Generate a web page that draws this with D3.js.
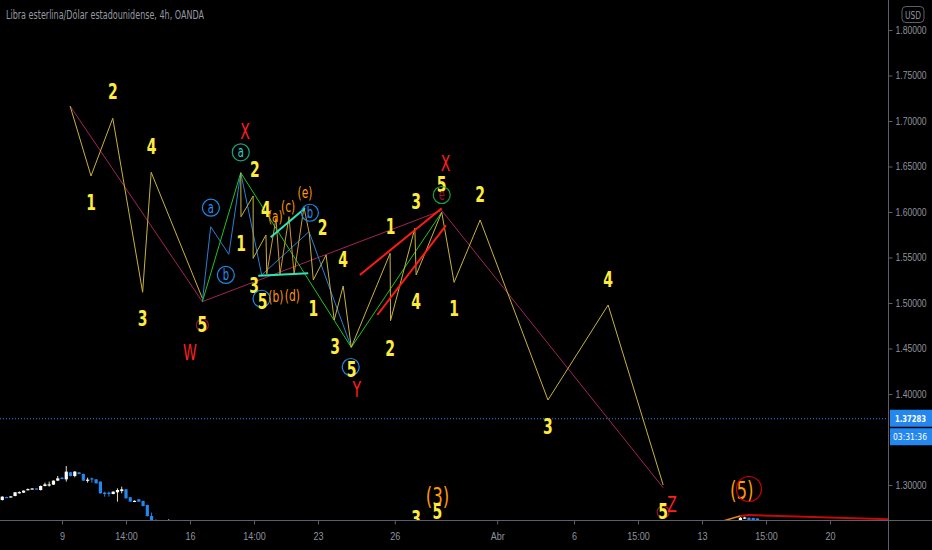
<!DOCTYPE html>
<html><head><meta charset="utf-8">
<script src="https://cdn.jsdelivr.net/npm/d3@7"></script>
<style>
body{margin:0;background:#000;overflow:hidden;}
svg{display:block;font-family:"DejaVu Sans Condensed","DejaVu Sans",sans-serif;}
</style></head><body><svg></svg><script>
// axis data
const timeTicks = [[0,"9"],[15,"14:00"],[30,"16"],[45,"14:00"],[60,"23"],[78,"26"],[102,"Abr"],[120,"6"],[135,"15:00"],[150,"13"],[165,"15:00"],[180,"20"]];
const priceTicks = [1.30,1.40,1.45,1.50,1.55,1.60,1.65,1.70,1.75,1.80];
const lastPrice = 1.37283;
const countdown = "03:31:36";
const title = "Libra esterlina/Dólar estadounidense, 4h, OANDA";

// 4h candles: [bar, open, high, low, close]
const candles = [
  [-14,1.2835,1.2876,1.2830,1.2872],[-13,1.2868,1.2870,1.2860,1.2862],[-12,1.2866,1.2878,1.2864,1.2875],
  [-11,1.2879,1.2922,1.2876,1.2920],[-10,1.2918,1.2930,1.2905,1.2922],[-9,1.2916,1.2940,1.2914,1.2938],
  [-8,1.2950,1.2962,1.2942,1.2955],[-7,1.2958,1.2964,1.2954,1.2962],[-6,1.2962,1.2964,1.2956,1.2958],
  [-5,1.2945,1.2995,1.2940,1.2989],[-4,1.2989,1.3026,1.2985,1.3007],[-3,1.3002,1.3037,1.2982,1.3007],
  [-2,1.3004,1.3050,1.3000,1.3048],[-1,1.3048,1.3099,1.3045,1.3073],[0,1.3081,1.3085,1.3062,1.3066],
  [1,1.3062,1.3209,1.3037,1.3147],[2,1.3139,1.3145,1.3095,1.3099],[3,1.3099,1.3154,1.3085,1.3147],
  [4,1.3139,1.3143,1.3118,1.3121],[5,1.3121,1.3125,1.3045,1.3048],[6,1.3055,1.3081,1.3026,1.3059],
  [7,1.3073,1.3081,1.3026,1.3062],[8,1.3062,1.3066,1.3015,1.3019],[9,1.3037,1.3040,1.2905,1.2909],
  [10,1.2916,1.2927,1.2872,1.2901],[11,1.2916,1.2927,1.2872,1.2901],[12,1.2901,1.2930,1.2898,1.2927],
  [13,1.2920,1.2963,1.2817,1.2945],[14,1.2934,1.2982,1.2909,1.2952],[15,1.2952,1.2956,1.2850,1.2854],
  [16,1.2865,1.2868,1.2815,1.2817],[17,1.2824,1.2832,1.2817,1.2826],[18,1.2843,1.2846,1.2815,1.2817],
  [19,1.2824,1.2828,1.2765,1.2769],[20,1.2780,1.2784,1.2655,1.2659],[21,1.2659,1.2696,1.2575,1.2579],
  [22,1.2615,1.2623,1.2480,1.2500],[23,1.2500,1.2520,1.2280,1.2300],[24,1.2300,1.2350,1.2080,1.2100],
  [25,1.2200,1.2623,1.2150,1.2400],[26,1.2400,1.2615,1.2250,1.2300],
  [159,1.2610,1.2648,1.2600,1.2640],[160,1.2640,1.2652,1.2628,1.2643],[161,1.2640,1.2642,1.2600,1.2610],
  [162,1.2638,1.2640,1.2590,1.2600],[163,1.2632,1.2634,1.2580,1.2590]
];

// drawn wave paths: [bar, price]
const waveW = [[1.9,1.7165],[6.8,1.6396],[11.9,1.7030],[18.9,1.5118],[20.9,1.6436],[32.9,1.5052]];
const waveMaroon = [[1.9,1.7165],[32.9,1.5015],[89.0,1.6017],[140.9,1.2970]];
const waveBlue = [[32.9,1.5015],[34.85,1.5838],[39.1,1.5535],[41.9,1.6432],[46.8,1.5308],[57.9,1.5784],[67.8,1.4513]];
const waveGreen = [[32.9,1.5015],[41.9,1.6432],[67.8,1.4513],[89.0,1.5997]];
const waveSubX = [[41.9,1.6432],[41.95,1.5948],[44.8,1.6176],[44.8,1.5491],[47.8,1.5747],[48.0,1.5319]];
const waveTriangle = [[48.0,1.5319],[50.15,1.5931],[51.1,1.5319],[53.2,1.5949],[54.4,1.5319],[56.7,1.6052],[57.95,1.5766]];
const waveY = [[57.95,1.5766],[58.9,1.5253],[61.9,1.5527],[63.8,1.4813],[65.9,1.5187],[67.8,1.4513],
  [76.9,1.5546],[77.0,1.4806],[82.7,1.5821],[83.0,1.5308],[89.0,1.5997],[91.9,1.5227],[98.0,1.5912],
  [113.9,1.3934],[128.0,1.4978],[140.9,1.3000]];
const tealLines = [[[48.9,1.5722],[56.95,1.6041]],[[46.0,1.5300],[57.7,1.5326]]];
const redLines = [[[69.8,1.5308],[89.0,1.6041]],[[73.9,1.4868],[90.0,1.5852]]];
const waveOrangeLow = [[154.4,1.2597],[158.9,1.2659]];
const waveRedLow = [[158.9,1.2659],[160.9,1.2670],[200,1.2615]];

// labels: [text, bar, price, kind]
const labels = [
  ["2",11.9,1.7322,"y"],["1",6.8,1.6102,"y"],["4",21.0,1.6718,"y"],["3",18.9,1.4832,"y"],
  ["5",32.9,1.4758,"y5"],["W",30.0,1.4454,"r"],
  ["a",34.9,1.6047,"cb"],["b",38.4,1.5308,"cb"],["a",41.9,1.6656,"cg"],["X",42.9,1.6882,"r"],
  ["2",45.2,1.6462,"y"],["1",42.0,1.5656,"y"],["4",47.8,1.6030,"y"],
  ["(a)",50.0,1.5948,"o"],["(c)",53.0,1.6058,"o"],["(e)",56.95,1.6212,"o"],["b",58.1,1.5992,"cb"],
  ["2",61.1,1.5832,"y"],["4",65.9,1.5473,"y"],["3",45.0,1.5190,"y"],["5",47.0,1.5014,"cb5"],
  ["(b)",50.1,1.5069,"o"],["(d)",54.0,1.5088,"o"],["1",58.9,1.4942,"y"],
  ["X",89.9,1.6535,"r"],["5",89.0,1.6297,"y"],["e",89.0,1.6187,"ce"],["3",83.0,1.6113,"y"],
  ["2",98.0,1.6187,"y"],["1",77.0,1.5839,"y"],["4",83.0,1.5014,"y"],["1",91.9,1.4942,"y"],
  ["2",76.9,1.4502,"y"],["3",64.0,1.4520,"y"],["5",67.9,1.4264,"cb5"],["Y",69.1,1.4044,"r"],
  ["3",113.9,1.3637,"y"],["4",128.0,1.5253,"y"],["5",140.9,1.2703,"y5"],["Z",143.0,1.2780,"r"],
  ["(3)",88.0,1.2872,"ob"],["5",88.0,1.2707,"y"],["3",83.0,1.2634,"y"],["(5)",159.3,1.2945,"ob"]
];
const ringCircle = [161.0,1.2956];

const W = 932, H = 550, plotR = 888, plotB = 520;
const svg = d3.select("svg").attr("width", W).attr("height", H);
svg.append("rect").attr("width", W).attr("height", H).attr("fill", "#000");

const x = d3.scaleLinear().domain([0, 180]).range([62, 830]);
const y = d3.scaleLinear().domain([1.30, 1.80]).range([485, 30]);

svg.append("defs").append("clipPath").attr("id", "plot")
  .append("rect").attr("width", plotR).attr("height", plotB);
const plot = svg.append("g").attr("clip-path", "url(#plot)");

// candles
const upWick = "#e4e0b4", up = "#ffffff", down = "#2387ef";
const cg = plot.append("g");
cg.selectAll("line").data(candles).join("line")
  .attr("x1", d => x(d[0])).attr("x2", d => x(d[0]))
  .attr("y1", d => y(d[2])).attr("y2", d => y(d[3]))
  .attr("stroke", d => d[4] >= d[1] ? upWick : down).attr("stroke-width", 1);
cg.selectAll("rect").data(candles).join("rect")
  .attr("x", d => x(d[0]) - 1.6).attr("width", 3.2)
  .attr("y", d => y(Math.max(d[1], d[4])))
  .attr("height", d => Math.max(1.2, Math.abs(y(d[1]) - y(d[4]))))
  .attr("fill", d => d[4] >= d[1] ? up : down);

// last price line
plot.append("line").attr("x1", 0).attr("x2", plotR)
  .attr("y1", y(lastPrice)).attr("y2", y(lastPrice))
  .attr("stroke", "#2387ef").attr("stroke-dasharray", "1,2");

const line = d3.line().x(d => x(d[0])).y(d => y(d[1]));
function path(data, color, w) {
  plot.append("path").attr("d", line(data)).attr("fill", "none")
    .attr("stroke", color).attr("stroke-width", w || 1);
}
path(waveMaroon, "#a3245a");
path(waveW, "#c8b23e");
path(waveBlue, "#2a7fd4");
path(waveGreen, "#1fc41f");
path(waveSubX, "#c8b23e");
path(waveTriangle, "#cc9a34");
path(waveY, "#c8b23e");
tealLines.forEach(l => path(l, "#2ee6b4", 2));
redLines.forEach(l => path(l, "#ff1a1a", 2));
path(waveOrangeLow, "#e08a1a", 1.5);
path(waveRedLow, "#c40a0a", 2);

// labels (narrowed glyphs like the reference)
const lg = plot.append("g").attr("text-anchor", "middle").attr("dominant-baseline", "central");
function txt(t, px, py, fill, size, weight) {
  lg.append("text").attr("transform", `translate(${px},${py}) scale(0.74,1)`).attr("fill", fill)
    .attr("font-size", size).attr("font-weight", weight || "normal").text(t);
}
function ring(px, py, r, color, w) {
  lg.append("circle").attr("cx", px).attr("cy", py).attr("r", r)
    .attr("fill", "none").attr("stroke", color).attr("stroke-width", w || 1.2);
}
labels.forEach(([t, b, p, k]) => {
  const px = x(b), py = y(p);
  if (k === "y") txt(t, px, py, "#ffeb3b", 21, "bold");
  else if (k === "y5") { ring(px, py, 6, "#8b1538"); txt(t, px, py, "#ffeb3b", 21, "bold"); }
  else if (k === "r") txt(t, px, py, "#ff1f1f", 21);
  else if (k === "o") txt(t, px, py, "#ff9800", 16);
  else if (k === "ob") txt(t, px, py, "#ff9800", 25);
  else if (k === "cb") { ring(px, py, 8.5, "#1e88e5"); txt(t, px, py, "#2a8ff0", 15); }
  else if (k === "cb5") { ring(px - 1, py - 3, 8.5, "#1e88e5"); txt(t, px, py, "#ffeb3b", 21, "bold"); }
  else if (k === "cg") { ring(px, py, 8.5, "#1aa37a"); txt(t, px, py, "#2ecfc0", 15); }
  else if (k === "ce") { ring(px, py, 8.5, "#1c9e3a"); txt(t, px, py, "#8b1538", 15); }
});
ring(x(ringCircle[0]), y(ringCircle[1]), 12.5, "#d40000");

// axes frame
svg.append("line").attr("x1", plotR + 0.5).attr("x2", plotR + 0.5).attr("y1", 0).attr("y2", H).attr("stroke", "#5d606b");
svg.append("line").attr("x1", 0).attr("x2", W).attr("y1", plotB + 0.5).attr("y2", plotB + 0.5).attr("stroke", "#5d606b");

const yAxis = d3.axisRight(y).tickValues(priceTicks).tickFormat(d3.format(".5f")).tickSize(4).tickPadding(3);
const ya = svg.append("g").attr("transform", `translate(${plotR + 0.5},0)`).call(yAxis);
const xAxis = d3.axisBottom(x).tickValues(timeTicks.map(d => d[0]))
  .tickFormat((d, i) => timeTicks[i][1]).tickSize(4).tickPadding(8);
const xa = svg.append("g").attr("transform", `translate(0,${plotB + 0.5})`).call(xAxis);
[ya, xa].forEach(a => {
  a.select(".domain").remove();
  a.selectAll(".tick line").attr("stroke", "#5d606b");
  a.selectAll("text").attr("fill", "#8f939c").attr("font-size", 11);
});
ya.selectAll("text").attr("font-size", 10).attr("textLength", 31).attr("lengthAdjust", "spacingAndGlyphs");
xa.selectAll("text").attr("transform", "scale(0.82,1)");

// price tags
const tagY = y(lastPrice);
svg.append("rect").attr("x", 890).attr("y", tagY - 9).attr("width", 42).attr("height", 17).attr("fill", "#2387ef");
svg.append("rect").attr("x", 890).attr("y", tagY + 9.5).attr("width", 42).attr("height", 17).attr("fill", "#2387ef");
svg.append("text").attr("x", 895).attr("y", tagY).attr("dominant-baseline", "central")
  .attr("fill", "#fff").attr("font-size", 9).attr("font-weight", "bold")
  .attr("textLength", 31).attr("lengthAdjust", "spacingAndGlyphs").text(d3.format(".5f")(lastPrice));
svg.append("text").attr("x", 893).attr("y", tagY + 18).attr("dominant-baseline", "central")
  .attr("fill", "#fff").attr("font-size", 9)
  .attr("textLength", 34).attr("lengthAdjust", "spacingAndGlyphs").text(countdown);

// currency box
svg.append("rect").attr("x", 902).attr("y", 6.5).attr("width", 22).attr("height", 16).attr("rx", 4)
  .attr("fill", "none").attr("stroke", "#5d606b");
svg.append("text").attr("x", 913).attr("y", 15).attr("text-anchor", "middle").attr("dominant-baseline", "central")
  .attr("fill", "#8f939c").attr("font-size", 10).attr("textLength", 16).attr("lengthAdjust", "spacingAndGlyphs").text("USD");

// title
svg.append("text").attr("x", 6).attr("y", 19).attr("fill", "#9598a1").attr("font-size", 12)
  .attr("textLength", 198).attr("lengthAdjust", "spacingAndGlyphs").text(title);
</script></body></html>
